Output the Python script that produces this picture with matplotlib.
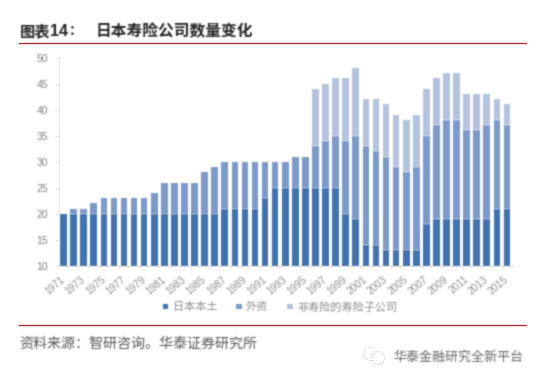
import numpy as np
import matplotlib
matplotlib.use('Agg')
import matplotlib.pyplot as plt
from matplotlib.patches import Arc, Circle, Rectangle
from matplotlib.transforms import ScaledTranslation

# 数据
years = list(range(1971, 2016))
local = [20, 20, 20, 20, 20, 20, 20, 20, 20, 20, 20, 20, 20, 20, 20, 20, 21, 21, 21, 21, 23, 25, 25,
         25, 25, 25, 25, 25, 20, 19, 14, 14, 13, 13, 13, 13, 18, 19, 19, 19, 19, 19, 19, 21, 21]
foreign = [0, 1, 1, 2, 3, 3, 3, 3, 3, 4, 6, 6, 6, 6, 8, 9, 9, 9, 9, 9, 7, 5, 5,
           6, 6, 8, 9, 10, 14, 16, 19, 18, 18, 16, 15, 16, 17, 18, 19, 19, 17, 17, 18, 17, 16]
subsidiary = [0, 0, 0, 0, 0, 0, 0, 0, 0, 0, 0, 0, 0, 0, 0, 0, 0, 0, 0, 0, 0, 0, 0,
              0, 0, 11, 11, 11, 12, 13, 9, 10, 10, 10, 10, 10, 9, 9, 9, 9, 7, 7, 6, 4, 4]
series_names = ['日本本土', '外资', '非寿险的寿险子公司']
colors = ['#4172b0', '#7b99ca', '#b5c3df']
yticks = [10, 15, 20, 25, 30, 35, 40, 45, 50]

plt.rcParams['font.family'] = ['Noto Sans CJK SC', 'DejaVu Sans']


# 原图比较模糊，给文字和柱子加一点高斯模糊（颜色先乘 alpha，避免边缘发黑）
def blur(img, dpi):
    pad = 3
    kernel = np.exp(-np.arange(-pad, pad + 1) ** 2 / (2 * 0.7 ** 2))
    kernel = kernel / kernel.sum()
    out = np.pad(img, ((pad, pad), (pad, pad), (0, 0)))
    out[..., :3] *= out[..., 3:]
    out = np.apply_along_axis(np.convolve, 0, out, kernel, mode='same')
    out = np.apply_along_axis(np.convolve, 1, out, kernel, mode='same')
    out[..., :3] /= np.maximum(out[..., 3:], 1e-4)
    return np.clip(out, 0, 1), -pad, -pad


W, H = 539, 380
fig = plt.figure(figsize=(W / 100, H / 100), dpi=100)
ax = fig.add_axes([58.5 / W, 1 - 266 / H, (512 - 58.5) / W, (266 - 57.5) / H])

x = np.arange(len(years))
local_arr = np.array(local)
foreign_arr = np.array(foreign)
ax.bar(x, local_arr - 10, bottom=10, width=0.66, color=colors[0], label=series_names[0])
ax.bar(x, foreign_arr, bottom=local_arr, width=0.66, color=colors[1], label=series_names[1])
ax.bar(x, subsidiary, bottom=local_arr + foreign_arr, width=0.66, color=colors[2], label=series_names[2])

ax.set_xlim(-0.5, len(years) - 0.5)
ax.set_ylim(10, 50)
ax.set_yticks(yticks)
ax.set_xticks(x[::2])
ax.set_xticklabels(years[::2], rotation=40, ha='right', rotation_mode='anchor',
                   fontsize=7.2, color='#8f8f8f', family='Liberation Sans')
ax.tick_params(axis='y', labelsize=7.5, labelcolor='#808080', color='#e4e4e4', length=3, pad=4.5)
ax.tick_params(axis='x', length=0, pad=6)
shift = ScaledTranslation(-3 / 100, 0, fig.dpi_scale_trans)
for lab in ax.get_xticklabels():
    lab.set_transform(lab.get_transform() + shift)
for lab in ax.get_yticklabels():
    lab.set_family('Liberation Sans')
for s in ['top', 'right']:
    ax.spines[s].set_visible(False)
ax.spines['left'].set_color('#e4e4e4')
ax.spines['bottom'].set_color('#d8d8d8')

fig.legend(loc='center', bbox_to_anchor=(280 / W, 1 - 307 / H), ncol=3, frameon=False,
           fontsize=8, labelcolor='#8a8a8a', handlelength=0.5, handleheight=0.4,
           handletextpad=0.4, columnspacing=1.7)

# 标题、来源、红线
fig.text(20 / W, 1 - 31 / H, '图表', fontsize=11, fontweight='bold', color='#222222', va='center')
fig.text(50 / W, 1 - 31 / H, '14', fontsize=11.5, fontweight='bold', color='#222222', va='center',
         family='Liberation Sans')
fig.text(69 / W, 1 - 31 / H, '：', fontsize=10, fontweight='bold', color='#222222', va='center')
fig.text(96 / W, 1 - 31 / H, '日本寿险公司数量变化', fontsize=11.3, fontweight='bold', color='#222222',
         va='center')
red_lines = [plt.Line2D([19 / W, 526 / W], [1 - y / H] * 2, color='#b0242a', lw=0.9) for y in (43, 325)]
fig.text(19 / W, 1 - 344 / H, '资料来源：智研咨询。华泰证券研究所', fontsize=10.1, color='#555555', va='center')
fig.text(393 / W, 1 - 357 / H, '华泰金融研究全新平台', fontsize=9.4, color='#666666', va='center')

# 水印小图标
icon = fig.add_axes([362 / W, 1 - 367 / H, 26 / W, 22 / H])
icon.set_xlim(0, 26)
icon.set_ylim(0, 22)
icon.axis('off')
icon.add_patch(Arc((9, 13), 15, 13, theta1=70, theta2=290, color='#b0b0b0', lw=0.6, ls=':'))
icon.add_patch(Circle((16, 9), 6.5, fill=False, color='#b0b0b0', lw=0.6, ls=':'))

for art in fig.findobj(lambda a: isinstance(a, (plt.Text, Rectangle))):
    if art is not fig.patch and art is not ax.patch:
        art.set_agg_filter(blur)
for line in red_lines:
    fig.add_artist(line)

fig.savefig('out.png', dpi=100)
